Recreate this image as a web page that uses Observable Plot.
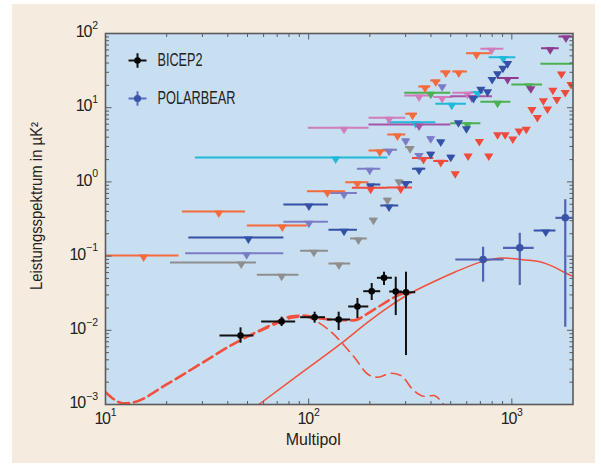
<!DOCTYPE html>
<html><head><meta charset="utf-8">
<script src="https://cdn.jsdelivr.net/npm/d3@7"></script>
<script src="https://cdn.jsdelivr.net/npm/@observablehq/plot@0.6"></script>
<style>
html,body{margin:0;padding:0;background:#fff;}
#wrap{position:relative;width:601px;height:464px;overflow:hidden;}
#panel{position:absolute;left:12px;top:4px;width:583px;height:459px;background:#f5ecdf;}
#chart{position:absolute;left:0;top:0;}
</style></head><body><div id="wrap"><div id="panel"></div><div id="chart"></div></div>
<script>
// ---------- data ----------
const xTickExps = [1, 2, 3];
const yTickExps = [-3, -2, -1, 0, 1, 2];

// BICEP2 band powers
const bicepL   = [46.2, 73.6, 107, 140.5, 173.8, 204.3, 234.9, 268.3, 301.4];
const bicepLLo = [36.6, 58.7, 91.3, 123.6, 157.4, 186.6, 217.9, 250.6, 277.5];
const bicepLHi = [53.8, 86.3, 121, 161, 197.6, 226.3, 258.4, 289.4, 336.6];
const bicepV   = [0.00851, 0.01315, 0.01502, 0.01399, 0.02094, 0.03365, 0.05102, 0.03334, 0.0326];
const bicepVLo = [0.0067, 0.01125, 0.01247, 0.00994, 0.01442, 0.02521, 0.0402, 0.0158, 0.00457];
const bicepVHi = [0.0108, 0.01502, 0.01754, 0.01754, 0.02685, 0.04275, 0.0607, 0.052, 0.0607];

// POLARBEAR band powers
const polarL   = [722, 1094, 1832];
const polarLLo = [530, 910, 1647];
const polarLHi = [916, 1288, 2013];
const polarV   = [0.090, 0.1294, 0.328];
const polarVLo = [0.0445, 0.0402, 0.0110];
const polarVHi = [0.1318, 0.2036, 0.574];

// model curves
const lensL = [56.8, 91, 144, 200, 250, 300, 422, 526, 729, 883, 1000, 1107, 1250, 1416, 1600, 1800, 2000];
const lensV = [0.001, 0.0026, 0.0066, 0.0135, 0.021, 0.029, 0.0465, 0.061, 0.0856, 0.0945, 0.093, 0.09, 0.087, 0.082, 0.072, 0.061, 0.053];
const tensL = [10, 12.3, 13.7, 20.2, 29.4, 42.8, 62.8, 81.5, 95, 113, 133, 150, 167, 198, 219, 254, 284, 329, 369, 413, 463, 500];
const tensV = [0.00147, 0.00104, 0.00107, 0.0019, 0.00353, 0.00658, 0.0107, 0.0145, 0.0152, 0.0125, 0.0088, 0.0062, 0.0044, 0.0025, 0.00233, 0.00264, 0.00246, 0.00154, 0.00129, 0.00132, 0.001, 0.0008];
const totL  = [10, 12.3, 13.7, 20.2, 29.4, 42.8, 62.8, 81.5, 95, 114.6, 139, 166.6, 195, 226, 274, 300];
const totV  = [0.00147, 0.00104, 0.00107, 0.0019, 0.00353, 0.00658, 0.0112, 0.0153, 0.0158, 0.0144, 0.0138, 0.0136, 0.0168, 0.0216, 0.0294, 0.0327];

// upper limits [multipole, bin low, bin high, value]
const ulOrange = [[36.1,23.9,48.9,0.399],[74.2,49.9,98.6,0.258],[15.4,10,23.0,0.102],[123.6,98.6,152.2,0.75],[173.7,152.2,198.2,0.99],[223.9,198.2,245,2.65],[273.7,245,300.5,4.35],[324.5,300.5,343,8.28],[473.4,447,500.8,30.7],[548,512,605,30.7],[422.4,398.8,447,23.3],[374,348.3,398.8,19.3],[670,598,788,54.3]];
const ulRed = [[201.9,164.1,244.2,0.835],[283.9,244.2,324.5,0.841],[526.7,526.7,526.7,1.35],[367.3,324.5,412.7,2.10],[447,412.7,489.6,1.92],[609,609,609,2.34],[770,770,770,2.34],[692,692,692,3.67],[851,851,851,4.53],[927,927,927,4.53],[1011,1011,1011,3.96],[1086,1086,1086,5.09],[1178,1178,1178,5.36],[1336,1336,1336,7.73],[1255,1255,1255,9.91],[1498,1498,1498,10.07],[1429,1429,1429,13.0],[1666,1666,1666,13.5],[1592,1592,1592,18.0],[1832,1832,1832,16.8],[1955,1955,1955,21.5],[1755,1755,1755,29.8]];
const ulBlue = [[50.5,25.7,75.5,0.178],[100.3,75.5,125,0.496],[149.3,125.9,173.7,0.226],[248.7,226.4,277.5,0.481],[300.5,277.5,324.5,0.99],[201.9,194.4,226.4,0.923],[349.5,324.5,376.8,1.50],[447,430,465,3.61],[398.8,385,412,2.47],[500.8,485,517,2.25],[546,546,546,6.58],[598,598,598,5.46],[647.5,647.5,647.5,13.9],[703.9,703.9,703.9,18.5],[759.3,759.3,759.3,17.1],[952.9,952.9,952.9,41.1],[903.6,903.6,903.6,35.6],[850.6,850.6,850.6,30.1],[800,800,800,25.1],[1469,1288,1648,0.221]];
const ulLavender = [[49.5,24.8,75.5,0.109],[100.3,75.5,125,0.29],[149.3,128.3,173.7,0.709],[199.7,173.7,226.4,1.50],[248.7,230.7,273.7,2.71],[300.5,290,312,3.72],[398.8,385,412,4.0],[349.5,335,365,2.38],[453.8,453.8,453.8,20.1]];
const ulGrey = [[46.6,20.9,55.3,0.082],[73.6,55.9,89.5,0.056],[106.1,91.3,125,0.118],[141.0,125.9,160.9,0.0794],[175.8,160.9,194.4,0.173],[208.3,199.7,217,0.318],[244.2,235,253,0.592],[278.5,270,287,1.045],[315.7,300,330,2.94]];
const ulCyan = [[135.8,27.7,245,2.13],[336.5,245,422.4,6.38],[677.8,628.6,727.5,16.2],[506.2,422.4,598,11.3],[906.6,772.8,1046,48.0]];
const ulPink = [[149.3,99.6,198.2,5.36],[248.7,198.2,300.5,7.31],[349.5,297.1,412.7,14.6],[453.8,412.7,512,13.9],[605,512,649.6,15.9],[794,703.9,913.7,62.2]];
const ulViolet = [[349.5,198.2,500.8,5.94],[635,500.8,803.5,14.3]];
const ulPurple = [[952.9,850.6,1086,25.1],[1241,1241,1241,18.9],[1544,1400,1711,63.4],[1846,1705,1997,91.1]];
const ulGreen = [[605,500.8,703.9,6.18],[398.8,297.1,500.8,15.9],[850.6,703.9,988.8,12.0],[1213,1000,1416,20.5],[2300,1390,2100,39.1]];

const legendNames = ["BICEP2", "POLARBEAR"];
const xTitle = "Multipol";
const yTitle = "Leistungsspektrum in µK²";

// ---------- styles ----------
const FONT = '"Liberation Sans Narrow", "Liberation Sans", Roboto, sans-serif';
const RED = "#f2503c";
const groups = [
  [ulGrey, "#8e8e8e"], [ulLavender, "#7c7cc6"], [ulCyan, "#1fb9d9"], [ulPink, "#d27dbb"],
  [ulViolet, "#a653a8"], [ulGreen, "#4bb04f"], [ulOrange, "#f46a3b"], [ulBlue, "#3351a6"],
  [ulPurple, "#8f3b91"], [ulRed, "#ef4a3b"]
];
const ul = groups.flatMap(([arr, c]) => arr.map(([l, lo, hi, v]) => ({l, lo, hi, v, c})));

const bicep = bicepL.map((l, i) => ({l, lo: bicepLLo[i], hi: bicepLHi[i], v: bicepV[i], vlo: bicepVLo[i], vhi: bicepVHi[i]}));
const polar = polarL.map((l, i) => ({l, lo: polarLLo[i], hi: polarLHi[i], v: polarV[i], vlo: polarVLo[i], vhi: polarVHi[i]}));
const lens = lensL.map((l, i) => ({l, v: lensV[i]}));
const tens = tensL.map((l, i) => ({l, v: tensV[i]}));
const tot = totL.map((l, i) => ({l, v: totV[i]}));

const xMin = 10, xMax = 2000, yMin = 1e-3, yMax = 100;
const xMajor = xTickExps.map(e => 10 ** e);
const yMajor = yTickExps.map(e => 10 ** e);
const xMinor = [], yMinor = [];
for (const b of [10, 100, 1000]) for (let k = 2; k <= 9; k++) if (b * k < xMax) xMinor.push(b * k);
for (const b of [1e-3, 1e-2, 1e-1, 1, 10]) for (let k = 2; k <= 9; k++) yMinor.push(b * k);

// symbols
const triDown = {draw(ctx, size) { const r = Math.sqrt(size / Math.PI); ctx.moveTo(-1.1 * r, -0.25 * r); ctx.lineTo(1.1 * r, -0.25 * r); ctx.lineTo(0, 1.55 * r); ctx.closePath(); }};
const mk = (dx, dy) => ({draw(ctx, size) { const r = Math.sqrt(size / Math.PI); ctx.moveTo(0, 0); ctx.lineTo(dx * r, dy * r); }});
const tickUp = mk(0, -1), tickDown = mk(0, 1), tickRight = mk(1, 0), tickLeft = mk(-1, 0);
const cross = {draw(ctx, size) { const r = Math.sqrt(size / Math.PI); ctx.moveTo(-r, 0); ctx.lineTo(r, 0); ctx.moveTo(0, -0.8 * r); ctx.lineTo(0, 0.8 * r); }};

const AX = "#5a5a5a";
const tickMarks = (vals, r) => [
  Plot.dot(vals, {x: d => d, y: yMin, symbol: tickUp, r, stroke: AX, strokeWidth: 1, fill: "none"}),
  Plot.dot(vals, {x: d => d, y: yMax, symbol: tickDown, r, stroke: AX, strokeWidth: 1, fill: "none"})
];
const tickMarksY = (vals, r) => [
  Plot.dot(vals, {y: d => d, x: xMin, symbol: tickRight, r, stroke: AX, strokeWidth: 1, fill: "none"}),
  Plot.dot(vals, {y: d => d, x: xMax, symbol: tickLeft, r, stroke: AX, strokeWidth: 1, fill: "none"})
];
const expLabel = d => "10^" + String(d).replace("-", "\u2212");

const plot = Plot.plot({
  width: 601, height: 464,
  marginLeft: 105, marginRight: 28.5, marginTop: 33, marginBottom: 60,
  style: {fontFamily: FONT, fontSize: "16px", background: "transparent", color: "#222"},
  x: {type: "log", domain: [xMin, xMax], axis: null},
  y: {type: "log", domain: [yMin, yMax], axis: null},
  marks: [
    Plot.frame({fill: "#c8dff2"}),
    Plot.line(lens, {x: "l", y: "v", stroke: RED, strokeWidth: 1.5, curve: "monotone-x", clip: true}),
    Plot.line(tens, {x: "l", y: "v", stroke: RED, strokeWidth: 1.6, strokeDasharray: "10,6", curve: "monotone-x", clip: true}),
    Plot.line(tot, {x: "l", y: "v", stroke: RED, strokeWidth: 2.6, strokeDasharray: "11,5", curve: "monotone-x", clip: true}),
    Plot.ruleY(ul, {y: "v", x1: "lo", x2: "hi", stroke: "c", strokeWidth: 2, clip: true}),
    Plot.dot(ul, {x: "l", y: "v", symbol: triDown, r: 4.2, fill: "c", stroke: "none", clip: true}),
    Plot.ruleY(polar, {y: "v", x1: "lo", x2: "hi", stroke: "#4f64b4", strokeWidth: 2.2, clip: true}),
    Plot.ruleX(polar, {x: "l", y1: "vlo", y2: "vhi", stroke: "#4f64b4", strokeWidth: 2.2, clip: true}),
    Plot.dot(polar, {x: "l", y: "v", r: 3.8, fill: "#3a53a6", stroke: "none", clip: true}),
    Plot.ruleY(bicep, {y: "v", x1: "lo", x2: "hi", stroke: "#111", strokeWidth: 2, clip: true}),
    Plot.ruleX(bicep, {x: "l", y1: "vlo", y2: "vhi", stroke: "#111", strokeWidth: 2, clip: true}),
    Plot.dot(bicep, {x: "l", y: "v", r: 3.3, fill: "#000", stroke: "none", clip: true}),
    ...tickMarks(xMajor, 6), ...tickMarks(xMinor, 3.5),
    ...tickMarksY(yMajor, 6), ...tickMarksY(yMinor, 3.5),
    Plot.frame({stroke: AX, strokeWidth: 1.6}),
    Plot.text(yTickExps, {x: xMin, y: d => 10 ** d, text: expLabel, textAnchor: "end", dx: -7.5, dy: -1.5, fontSize: 16, fill: "#222"}),
    Plot.text(xTickExps, {x: d => 10 ** d, y: yMin, text: expLabel, textAnchor: "middle", dy: 14.2, fontSize: 16, fill: "#222"}),
    Plot.text([xTitle], {frameAnchor: "bottom", dx: -26, dy: 35.5, text: d => d, lineAnchor: "middle", fontSize: 16.5, fill: "#222"}),
    Plot.text([yTitle], {frameAnchor: "left", dx: -69, dy: -13, rotate: -90, text: d => d, lineAnchor: "middle", textAnchor: "middle", fontSize: 16, fill: "#222"}),
    // legend
    Plot.dot([legendNames[0]], {frameAnchor: "top-left", dx: 32, dy: 27, symbol: cross, r: 9, stroke: "#111", strokeWidth: 2, fill: "none"}),
    Plot.dot([legendNames[0]], {frameAnchor: "top-left", dx: 32, dy: 27, r: 3.3, fill: "#000"}),
    Plot.dot([legendNames[1]], {frameAnchor: "top-left", dx: 32, dy: 65, symbol: cross, r: 9, stroke: "#5b6dbd", strokeWidth: 2, fill: "none"}),
    Plot.dot([legendNames[1]], {frameAnchor: "top-left", dx: 32, dy: 65, r: 3.6, fill: "#3a53a6"}),
    Plot.text([legendNames[0]], {frameAnchor: "top-left", dx: 52, dy: 27, text: d => d, textAnchor: "start", lineAnchor: "middle", fontSize: 17.5, fill: "#222"}),
    Plot.text([legendNames[1]], {frameAnchor: "top-left", dx: 52, dy: 64.5, text: d => d, textAnchor: "start", lineAnchor: "middle", fontSize: 17.5, fill: "#222"})
  ]
});
document.getElementById("chart").appendChild(plot);

// fit text widths to the condensed typeface of the original
const NS = "http://www.w3.org/2000/svg";
const widths = {"BICEP2": 45, "POLARBEAR": 78, "Multipol": 55, "Leistungsspektrum in µK²": 168};
plot.querySelectorAll("text").forEach(t => {
  const s = t.textContent;
  if (s.includes("^")) {
    const [b, e] = s.split("^");
    t.textContent = "";
    const t1 = document.createElementNS(NS, "tspan"); t1.textContent = b;
    t1.setAttribute("letter-spacing", "-1.2"); t.appendChild(t1);
    const t2 = document.createElementNS(NS, "tspan"); t2.textContent = e;
    t2.setAttribute("dy", "-8.3"); t2.setAttribute("dx", "1"); t2.setAttribute("font-size", "10.5"); t.appendChild(t2);
  } else if (widths[s]) {
    t.setAttribute("textLength", widths[s]);
    t.setAttribute("lengthAdjust", "spacingAndGlyphs");
  }
});
</script></body></html>
